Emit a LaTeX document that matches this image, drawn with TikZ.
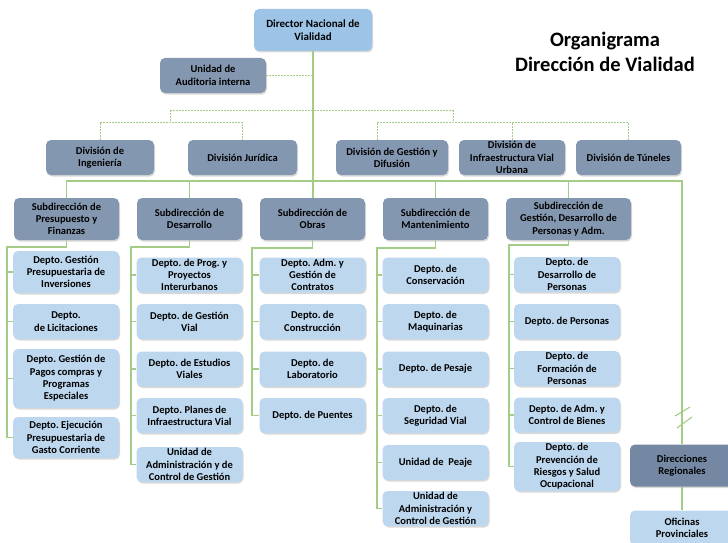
\documentclass[tikz,border=0pt]{standalone}
\usepackage{fontspec}
\setmainfont{Carlito}
\frenchspacing
\usetikzlibrary{calc,shadows}
\definecolor{boxlight}{HTML}{BDD7EE}
\definecolor{boxhead}{HTML}{9DC3E6}
\definecolor{boxdark}{HTML}{8497B0}
\definecolor{boxregion}{HTML}{7488A3}
\definecolor{linegreen}{HTML}{A3CD86}
\tikzset{
	box/.style={rounded corners=5pt, align=center, inner xsep=2pt, inner ysep=0pt,
		font=\fontsize{10.5}{12.3}\selectfont\bfseries,
		drop shadow={shadow xshift=1pt, shadow yshift=-1.5pt, opacity=0.3}},
	headbox/.style={box, fill=boxhead, minimum width=118, minimum height=42, font=\fontsize{11}{13.5}\selectfont\bfseries},
	darkbox/.style={box, fill=boxdark, minimum width=106, minimum height=35},
	subbox/.style={box, fill=boxdark, minimum width=105, minimum height=42},
	deptbox/.style={box, fill=boxlight, minimum width=106, minimum height=35},
	link/.style={draw=linegreen, line width=1.1pt},
	dashlink/.style={draw=linegreen, line width=0.8pt, dash pattern=on 2pt off 1pt}
}

\begin{document}
\begin{tikzpicture}[x=1pt, y=-1pt]
	%%%%% FRAME %%%%%
	\useasboundingbox (0, 0) rectangle (728, 543);
	
	\node[font=\fontsize{20.5}{25}\selectfont\bfseries, align=center] (title) at (605, 52) {Organigrama\\Dirección de Vialidad};
	
	%%%%% TOP %%%%%
	\node[headbox] (dir) at (313, 30) {Director Nacional de\\Vialidad};
	\node[darkbox] (aud) at (213, 75.5) {Unidad de\\Auditoria interna};
	
	\node[darkbox, minimum width=108] (ing) at (100, 157.5) {División de\\Ingeniería};
	\node[darkbox, minimum width=109] (jur) at (242.5, 157.5) {División Jurídica};
	\node[darkbox, minimum width=112] (ges) at (392, 157.5) {División de Gestión y\\Difusión};
	\node[darkbox] (inf) at (512, 157.5) {División de\\Infraestructura Vial\\Urbana};
	\node[darkbox, minimum width=105] (tun) at (628.5, 157.5) {División de Túneles};
	
	\draw[dashlink] (aud.east) -- (aud.east -| dir.south);
	\coordinate (dl) at (170, 110);
	\coordinate (dr) at (453, 110);
	\coordinate (dl2) at (170, 122);
	\coordinate (dr2) at (453, 122);
	\coordinate (gd) at (377, 140);
	\draw[dashlink] (dl) -- (dr);
	\draw[dashlink] (dl) -- (dl2);
	\draw[dashlink] (dr) -- (dr2);
	\draw[dashlink] (ing.north) |- (dl2) -| (jur.north);
	\draw[dashlink] (gd) |- (dr2) -| (tun.north);
	\draw[dashlink] (inf.north) -- (inf.north |- dr2);
	
	%%%%% SUBDIRECCIONES %%%%%
	\node[subbox] (s1) at (66.5, 219) {Subdirección de\\Presupuesto y\\Finanzas};
	\node[subbox] (s2) at (189.5, 219) {Subdirección de\\Desarrollo};
	\node[subbox] (s3) at (312.5, 219) {Subdirección de\\Obras};
	\node[subbox] (s4) at (435.5, 219) {Subdirección de\\Mantenimiento};
	\node[subbox, minimum width=125] (s5) at (568.5, 219) {Subdirección de\\Gestión, Desarrollo de\\Personas y Adm.};
	
	\node[subbox, fill=boxregion, minimum width=104] (dreg) at (682, 465.5) {Direcciones\\Regionales};
	\node[deptbox, minimum width=104] (ofi) at (682, 528) {Oficinas\\Provinciales};
	
	\coordinate (hr) at (682, 181);
	\draw[link] (dir.south) -- (dir.south |- s3.north);
	\draw[link] (s1.north) |- (hr) -- (dreg.north);
	\foreach \s in {s2,s4,s5}
		\draw[link] (\s.north) -- (\s.north |- hr);
	\draw[link] (dreg.south) -- (ofi.north);
	\draw[link] (675, 416) -- (690, 407);
	\draw[link] (677, 428) -- (692, 417);
	
	%%%%% DEPARTAMENTOS %%%%%
	\node[deptbox, minimum height=42] (d11) at (66, 272) {Depto. Gestión\\Presupuestaria de\\Inversiones};
	\node[deptbox] (d12) at (66, 321.5) {Depto.\\de Licitaciones};
	\node[deptbox, minimum height=59] (d13) at (66, 378.5) {Depto. Gestión de\\Pagos compras y\\Programas\\Especiales};
	\node[deptbox, minimum height=41] (d14) at (66, 437.5) {Depto. Ejecución\\Presupuestaria de\\Gasto Corriente};
	
	\node[deptbox] (d21) at (189.5, 275) {Depto. de Prog. y\\Proyectos\\Interurbanos};
	\node[deptbox] (d22) at (189.5, 321.5) {Depto. de Gestión\\Vial};
	\node[deptbox] (d23) at (189.5, 369) {Depto. de Estudios\\Viales};
	\node[deptbox] (d24) at (189.5, 415.5) {Depto. Planes de\\Infraestructura Vial};
	\node[deptbox] (d25) at (189.5, 464.5) {Unidad de\\Administración y de\\Control de Gestión};
	
	\node[deptbox] (d31) at (312.5, 275) {Depto. Adm. y\\Gestión de\\Contratos};
	\node[deptbox] (d32) at (312.5, 321.5) {Depto. de\\Construcción};
	\node[deptbox] (d33) at (312.5, 369) {Depto. de\\Laboratorio};
	\node[deptbox] (d34) at (312.5, 415.5) {Depto. de Puentes};
	
	\node[deptbox] (d41) at (435.5, 275) {Depto. de\\Conservación};
	\node[deptbox] (d42) at (435.5, 321.5) {Depto. de\\Maquinarias};
	\node[deptbox] (d43) at (435.5, 369) {Depto. de Pesaje};
	\node[deptbox] (d44) at (435.5, 415.5) {Depto. de\\Seguridad Vial};
	\node[deptbox] (d45) at (435.5, 462.5) {Unidad de\ \ Peaje};
	\node[deptbox] (d46) at (435.5, 508.5) {Unidad de\\Administración y\\Control de Gestión};
	
	\node[deptbox] (d51) at (567, 274.5) {Depto. de\\Desarrollo de\\Personas};
	\node[deptbox] (d52) at (567, 321.5) {Depto. de Personas};
	\node[deptbox] (d53) at (567, 368.5) {Depto. de\\Formación de\\Personas};
	\node[deptbox] (d54) at (567, 415) {Depto. de Adm. y\\Control de Bienes};
	\node[deptbox, minimum height=49] (d55) at (567, 466.5) {Depto. de\\Prevención de\\Riesgos y Salud\\Ocupacional};
	
	\coordinate (t1) at (7, 247);
	\coordinate (t2) at (131, 247);
	\coordinate (t3) at (252, 248);
	\coordinate (t4) at (377, 248);
	\coordinate (t5) at (509, 245);
	
	\draw[link] (s1.south) |- (t1) |- (d14.west);
	\foreach \d in {d11,d12,d13}
		\draw[link] (\d.west) -- (t1 |- \d.west);
	\draw[link] (s2.south) |- (t2) |- (d25.west);
	\foreach \d in {d21,d22,d23,d24}
		\draw[link] (\d.west) -- (t2 |- \d.west);
	\draw[link] (s3.south) |- (t3) |- (d34.west);
	\foreach \d in {d31,d32,d33}
		\draw[link] (\d.west) -- (t3 |- \d.west);
	\draw[link] (s4.south) |- (t4) |- (d46.west);
	\foreach \d in {d41,d42,d43,d44,d45}
		\draw[link] (\d.west) -- (t4 |- \d.west);
	\draw[link] (s5.south) |- (t5) |- (d55.west);
	\foreach \d in {d51,d52,d53,d54}
		\draw[link] (\d.west) -- (t5 |- \d.west);
	
\end{tikzpicture}
\end{document}
